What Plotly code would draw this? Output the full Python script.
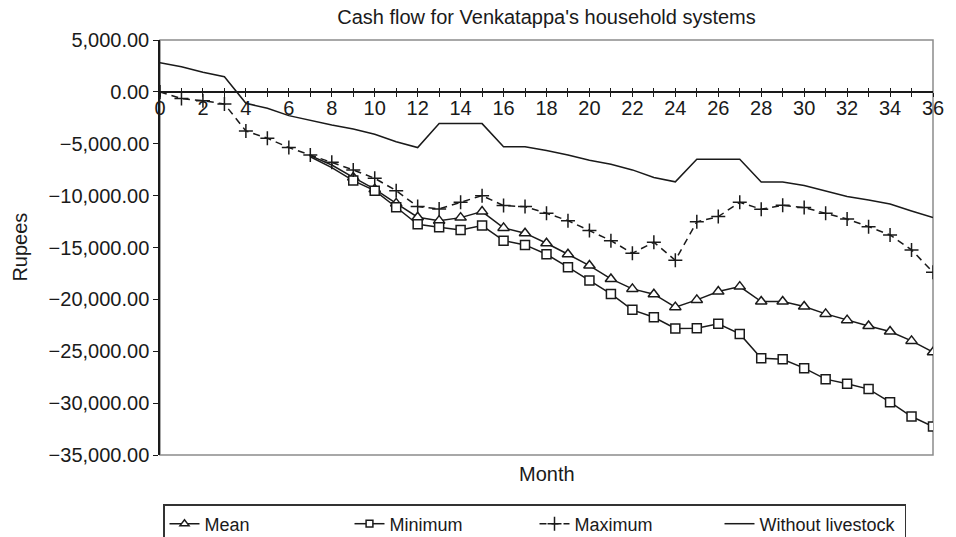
import plotly.graph_objects as go

# Monthly cash flow (Rupees) over a 36-month horizon
months = list(range(37))

mean = [None] * 7 + [
    -6150, -7050, -8250, -9380, -10750, -12080, -12410, -12120, -11540,
    -13110, -13620, -14590, -15650, -16740, -18030, -18990, -19500, -20750,
    -20050, -19250, -18770, -20210, -20210, -20690, -21400, -22000, -22560,
    -23100, -24000, -25090,
]

minimum = [None] * 7 + [
    -6250, -7300, -8550, -9520, -11120, -12760, -13050, -13310, -12890,
    -14340, -14750, -15650, -16900, -18190, -19470, -21010, -21720, -22800,
    -22780, -22360, -23330, -25670, -25770, -26630, -27690, -28140, -28650,
    -29910, -31290, -32260,
]

maximum = [
    0, -650, -850, -1170, -3770, -4470, -5370, -6080, -6790, -7520, -8330,
    -9520, -11060, -11280, -10640, -10000, -10960, -11060, -11700, -12410,
    -13370, -14340, -15550, -14490, -16230, -12530, -12020, -10640, -11310,
    -10930, -11150, -11700, -12260, -12990, -13790, -15230, -17380,
]

without_livestock = [
    2800, 2430, 1890, 1465, -1100, -1580, -2290, -2770, -3190, -3575, -4090,
    -4800, -5370, -3060, -3060, -3060, -5280, -5280, -5660, -6080, -6590,
    -6980, -7520, -8260, -8670, -6500, -6500, -6500, -8680, -8680, -9030,
    -9520, -10080, -10420, -10800, -11480, -12120,
]

y_ticks = list(range(-35000, 5001, 5000))

INK = "#1a1a1a"
FONT = "Liberation Sans, Arial, Helvetica, sans-serif"
W, H = 956, 537

# markers for the mean/minimum series appear once they separate from the maximum
marker_sizes = [0 if m < 9 else 9 for m in months]

fig = go.Figure()

fig.add_trace(go.Scatter(
    x=months, y=mean, name="Mean", mode="lines+markers",
    line=dict(color=INK, width=1.5),
    marker=dict(symbol="triangle-up", size=[s + 1 for s in marker_sizes],
                color="white", opacity=1, line=dict(color=INK, width=1.5)),
))
fig.add_trace(go.Scatter(
    x=months, y=minimum, name="Minimum", mode="lines+markers",
    line=dict(color=INK, width=1.5),
    marker=dict(symbol="square", size=marker_sizes,
                color="white", opacity=1, line=dict(color=INK, width=1.5)),
))
fig.add_trace(go.Scatter(
    x=months, y=maximum, name="Maximum", mode="lines+markers",
    line=dict(color=INK, width=1.5, dash="7px,5px"),
    marker=dict(symbol="cross-thin-open", size=10,
                line=dict(color=INK, width=1.5)),
))
fig.add_trace(go.Scatter(
    x=months, y=without_livestock, name="Without livestock", mode="lines",
    line=dict(color=INK, width=1.5),
))

# helper trace so the upper half of the crossing month ticks is drawn
fig.add_trace(go.Scatter(x=[], y=[], xaxis="x2", showlegend=False,
                         hoverinfo="skip"))

zero_pos = (0 - y_ticks[0]) / (y_ticks[-1] - y_ticks[0])

fig.update_layout(
    width=W, height=H,
    margin=dict(l=160, r=17, t=40, b=82),
    paper_bgcolor="white", plot_bgcolor="white",
    font=dict(family=FONT, size=20, color=INK),
    title=dict(text="Cash flow for Venkatappa's household systems",
               x=0.5, xref="paper", xanchor="center",
               y=1 - 17 / H, yref="container", yanchor="middle",
               font=dict(size=20, color=INK)),
    showlegend=True,
    legend=dict(orientation="h",
                xref="container", x=163 / W, xanchor="left",
                yref="container", y=1 - 504 / H, yanchor="top",
                bordercolor="#333333", borderwidth=1.5,
                entrywidth=140, entrywidthmode="pixels",
                font=dict(size=18, color=INK), bgcolor="white"),
    xaxis=dict(range=[0, 36], anchor="free", position=zero_pos,
               tickvals=months,
               ticktext=[str(m) if m % 2 == 0 else "" for m in months],
               ticks="outside", ticklen=4, tickwidth=1.2, tickcolor=INK,
               ticklabelstandoff=-6,
               showline=True, linecolor=INK, linewidth=1.5,
               showgrid=False, zeroline=False,
               tickfont=dict(size=20, color=INK)),
    xaxis2=dict(range=[0, 36], overlaying="x", anchor="free",
                position=zero_pos, tickvals=months, ticks="inside",
                ticklen=4, tickwidth=1.2, tickcolor=INK,
                showticklabels=False, showline=False, showgrid=False,
                zeroline=False),
    yaxis=dict(range=[y_ticks[0], y_ticks[-1]], tickvals=y_ticks,
               tickformat=",.2f", ticks="outside", ticklen=5, tickwidth=1.2,
               tickcolor=INK, showline=True, linecolor=INK, linewidth=1.5,
               showgrid=False, zeroline=False,
               tickfont=dict(size=20, color=INK)),
    shapes=[dict(type="rect", xref="paper", yref="paper",
                 x0=0, x1=1, y0=0, y1=1,
                 line=dict(color="#8c8c8c", width=1.5), layer="below")],
    annotations=[
        dict(text="Rupees", xref="paper", yref="paper",
             x=(18 - 160) / 779, y=0.5, textangle=-90, showarrow=False,
             xanchor="center", yanchor="middle", font=dict(size=20)),
        dict(text="Month", xref="paper", yref="paper",
             x=0.5, y=(455 - 474) / 415, showarrow=False,
             xanchor="center", yanchor="middle", font=dict(size=20)),
    ],
)

fig.write_html("out.html")
